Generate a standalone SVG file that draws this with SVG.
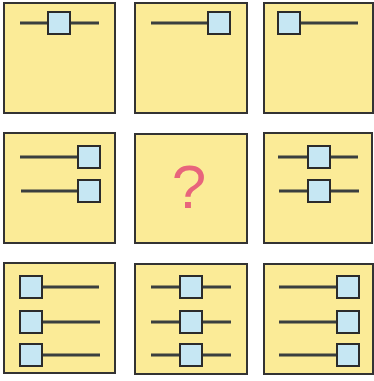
<svg xmlns="http://www.w3.org/2000/svg" width="374" height="381" viewBox="0 0 374 381">
<style>
.box{fill:#fbeb97;stroke:#333;stroke-width:2}
.ln{stroke:#3a3f3f;stroke-width:3;fill:none}
.kb{fill:#c6e7f3;stroke:#2b2b2b;stroke-width:2}
.q{font-family:"Liberation Sans",Arial,sans-serif;font-size:62px;fill:#e8647c;text-anchor:middle}
</style>
<rect width="374" height="381" fill="#ffffff"/>
<g id="cell-1-1"><rect class="box" x="4" y="3" width="111" height="110"/><line class="ln" x1="20" y1="23" x2="99" y2="23"/><rect class="kb" x="48" y="12" width="22" height="22"/></g>
<g id="cell-1-2"><rect class="box" x="135" y="3" width="112" height="110"/><line class="ln" x1="151" y1="23" x2="219" y2="23"/><rect class="kb" x="208" y="12" width="22" height="22"/></g>
<g id="cell-1-3"><rect class="box" x="264" y="3" width="109" height="110"/><line class="ln" x1="289" y1="23" x2="358" y2="23"/><rect class="kb" x="278" y="12" width="22" height="22"/></g>
<g id="cell-2-1"><rect class="box" x="4" y="133" width="111" height="110"/><line class="ln" x1="20" y1="157" x2="78" y2="157"/><rect class="kb" x="78" y="146" width="22" height="22"/><line class="ln" x1="21" y1="191" x2="78" y2="191"/><rect class="kb" x="78" y="180" width="22" height="22"/></g>
<g id="cell-2-2"><rect class="box" x="135" y="134" width="112" height="109"/><text class="q" x="189" y="208">?</text></g>
<g id="cell-2-3"><rect class="box" x="264" y="133" width="108" height="110"/><line class="ln" x1="278" y1="157" x2="358" y2="157"/><rect class="kb" x="308" y="146" width="22" height="22"/><line class="ln" x1="279" y1="191" x2="359" y2="191"/><rect class="kb" x="308" y="180" width="22" height="22"/></g>
<g id="cell-3-1"><rect class="box" x="4" y="263" width="111" height="110"/><line class="ln" x1="31" y1="287" x2="99" y2="287"/><rect class="kb" x="20" y="276" width="22" height="22"/><line class="ln" x1="31" y1="322" x2="100" y2="322"/><rect class="kb" x="20" y="311" width="22" height="22"/><line class="ln" x1="31" y1="355" x2="100" y2="355"/><rect class="kb" x="20" y="344" width="22" height="22"/></g>
<g id="cell-3-2"><rect class="box" x="135" y="264" width="112" height="110"/><line class="ln" x1="151" y1="287" x2="231" y2="287"/><rect class="kb" x="180" y="276" width="22" height="22"/><line class="ln" x1="151" y1="322" x2="231" y2="322"/><rect class="kb" x="180" y="311" width="22" height="22"/><line class="ln" x1="151" y1="355" x2="231" y2="355"/><rect class="kb" x="180" y="344" width="22" height="22"/></g>
<g id="cell-3-3"><rect class="box" x="264" y="264" width="109" height="110"/><line class="ln" x1="279" y1="287" x2="348" y2="287"/><rect class="kb" x="337" y="276" width="22" height="22"/><line class="ln" x1="279" y1="322" x2="348" y2="322"/><rect class="kb" x="337" y="311" width="22" height="22"/><line class="ln" x1="279" y1="355" x2="348" y2="355"/><rect class="kb" x="337" y="344" width="22" height="22"/></g>
<g id="connectors"></g>
</svg>
